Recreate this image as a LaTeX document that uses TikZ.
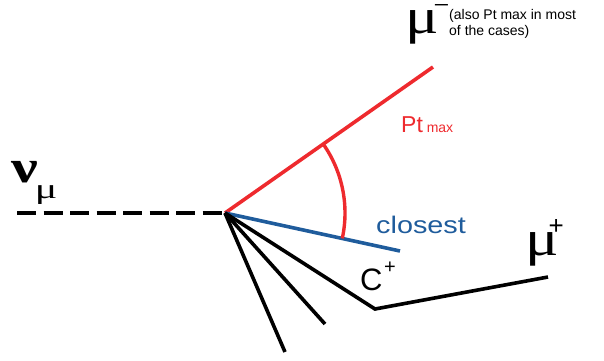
\documentclass[tikz,border=0pt]{standalone}
\usepackage{fontspec}
\setmainfont{Liberation Sans}
\newfontfamily\grk{Liberation Serif}
\definecolor{pred}{HTML}{EE2A2E}
\definecolor{pblue}{HTML}{1F5C9C}
\begin{document}
\begin{tikzpicture}[x=1pt,y=-1pt,
  trk/.style={line width=3.6pt},
  lbl/.style={inner sep=0pt,anchor=base west}]
\useasboundingbox (0,0) rectangle (604,360);
\coordinate (v) at (225,213);
\coordinate (nu0) at (17,213);
\coordinate (mum) at (433,67);
\coordinate (cl) at (400,251);
\coordinate (kink) at (375,309);
\coordinate (mup) at (548,277);
\coordinate (t2) at (325,324);
\coordinate (t3) at (285,352);
\draw[trk,dash pattern=on 19pt off 7.5pt] (nu0) -- (v);
\draw[trk,pred] (v) -- (mum);
\draw[trk,pblue] (v) -- (cl);
\draw[trk,line join=miter] (v) -- (kink) -- (mup);
\draw[trk] (v) -- (t2);
\draw[trk] (v) -- (t3);
\draw[line width=3.4pt,pred] (v) ++(-35:120) arc[start angle=-35,end angle=12.2,radius=120];
% labels
\node[lbl] (nul) at (11,182) {\grk\bfseries\fontsize{46}{46}\selectfont\scalebox{1.3}[1]{ν}\hspace{-3pt}\raisebox{-16pt}{\mdseries\fontsize{28}{28}\selectfont\scalebox{1.5}[1]{μ}}};
\node[lbl] (mml) at (405,33) {\grk\fontsize{50}{50}\selectfont\scalebox{1.25}[1]{μ}\hspace{-5pt}\raisebox{19pt}{\fontsize{28}{28}\selectfont −}};
\node[lbl,align=left,font=\fontsize{14}{15.5}\selectfont] (note) at (449,35) {(also Pt max in most\\of the cases)};
\node[lbl,text=pred] (ptl) at (401,132) {\fontsize{23}{23}\selectfont Pt\,\fontsize{14}{14}\selectfont max};
\node[lbl,text=pblue] (cll) at (376,233) {\fontsize{24}{24}\selectfont\scalebox{1.2}[1]{closest}};
\node[lbl] (cpl) at (360,290) {\fontsize{31}{31}\selectfont C\hspace{1.5pt}\raisebox{17pt}{\fontsize{20}{20}\selectfont +}};
\node[lbl] (mpl) at (525,255) {\grk\fontsize{50}{50}\selectfont\scalebox{1.25}[1]{μ}\hspace{-10pt}\raisebox{21pt}{\normalfont\fontsize{26}{26}\selectfont +}};
\end{tikzpicture}
\end{document}
